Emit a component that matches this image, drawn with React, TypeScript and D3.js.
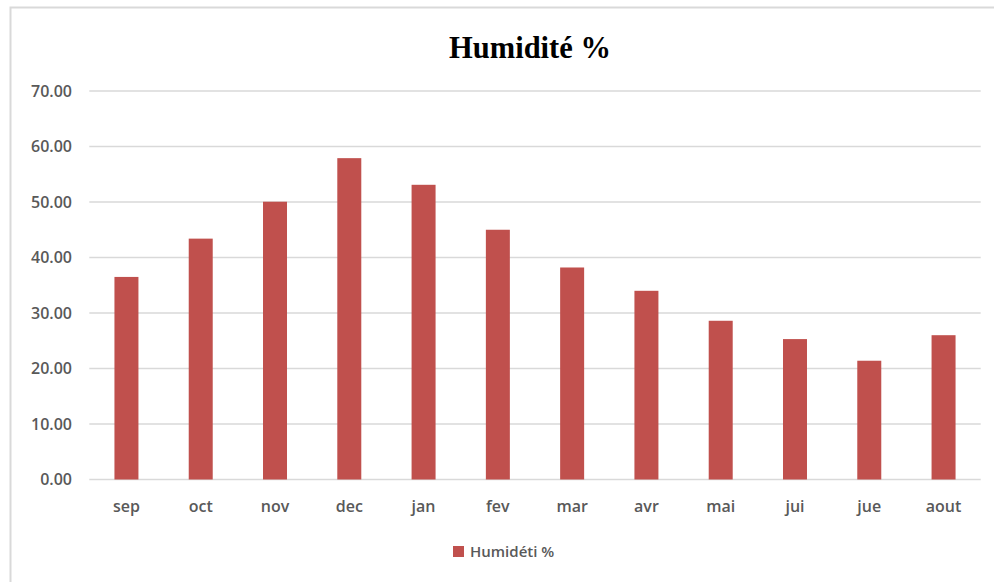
import React from "react";
import * as d3 from "d3";

const categories = ["sep", "oct", "nov", "dec", "jan", "fev", "mar", "avr", "mai", "jui", "jue", "aout"];
const humidity = [36.5, 43.4, 50.05, 57.9, 53.1, 45.0, 38.2, 34.0, 28.6, 25.3, 21.4, 26.0];
const yTicks = [0, 10, 20, 30, 40, 50, 60, 70];
const title = "Humidité %";
const seriesName = "Humidéti %";

const W = 994;
const H = 582;
const plot = { left: 89.3, right: 980.7, top: 91, bottom: 479.5 };
const barColor = "#C0504D";
const textColor = "#595959";
const gridColor = "#D9D9D9";
const sans = "'Open Sans', sans-serif";

export default function App() {
  const x = d3
    .scaleBand<string>()
    .domain(categories)
    .range([plot.left, plot.right])
    .paddingInner(0.677)
    .paddingOuter(0.3385);
  const y = d3.scaleLinear().domain([0, 70]).range([plot.bottom, plot.top]);

  return (
    <svg
      width={W}
      height={H}
      style={{ position: "absolute", left: 0, top: 0, background: "#fff" }}
    >
      <rect x={0} y={0} width={W} height={H} fill="#fff" />
      <rect
        x={10.5}
        y={7.5}
        width={W + 20}
        height={H + 20}
        fill="none"
        stroke={gridColor}
        strokeWidth={2}
      />
      <text
        x={530}
        y={58}
        textAnchor="middle"
        fontFamily="'Liberation Serif', 'Times New Roman', serif"
        fontWeight="bold"
        fontSize={30.5}
        fill="#000"
      >
        {title}
      </text>
      {yTicks.map((t) => (
        <g key={t}>
          <line
            x1={plot.left}
            x2={plot.right}
            y1={y(t)}
            y2={y(t)}
            stroke={gridColor}
            strokeWidth={1.5}
          />
          <text
            x={72}
            y={y(t)}
            dy="0.35em"
            textAnchor="end"
            fontFamily={sans}
            fontWeight={600}
            fontSize={16}
            fill={textColor}
          >
            {t.toFixed(2)}
          </text>
        </g>
      ))}
      {categories.map((c, i) => (
        <g key={c}>
          <rect
            x={x(c)!}
            y={y(humidity[i])}
            width={x.bandwidth()}
            height={y(0) - y(humidity[i])}
            fill={barColor}
          />
          <text
            x={x(c)! + x.bandwidth() / 2}
            y={512}
            textAnchor="middle"
            fontFamily={sans}
            fontWeight={600}
            fontSize={16}
            fill={textColor}
          >
            {c}
          </text>
        </g>
      ))}
      <rect x={453} y={546} width={11} height={11} fill={barColor} />
      <text x={470} y={557} fontFamily={sans} fontWeight={600} fontSize={15} fill={textColor}>
        {seriesName}
      </text>
    </svg>
  );
}
